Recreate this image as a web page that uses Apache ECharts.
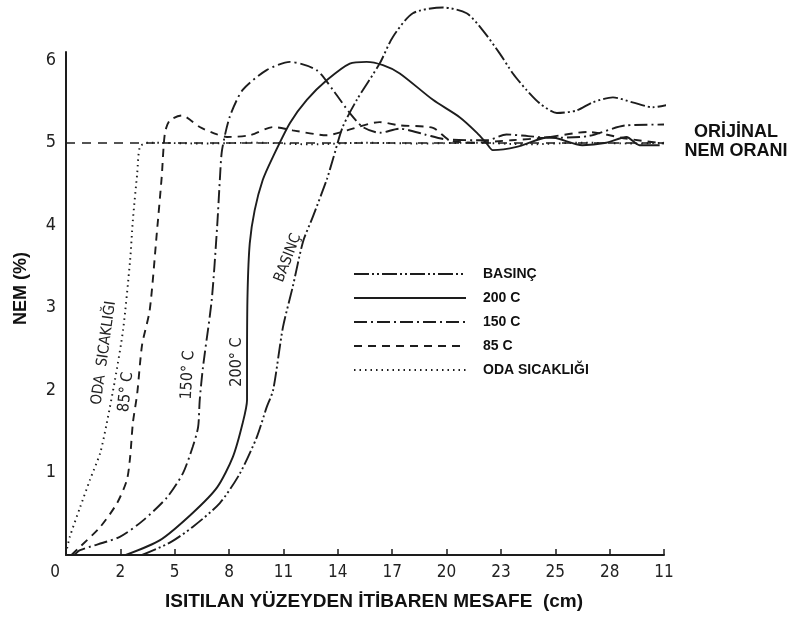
<!DOCTYPE html>
<html>
<head>
<meta charset="utf-8">
<script src="https://cdn.jsdelivr.net/npm/echarts@6/dist/echarts.min.js"></script>
<style>
  html, body { margin: 0; padding: 0; background: #fff; }
  #chart { width: 794px; height: 621px; }
</style>
</head>
<body>
<div id="chart"></div>
<script>
// Distance positions along the x axis (evenly spaced stations) and their labels
const xTickLabels = ['0', '2', '5', '8', '11', '14', '17', '20', '23', '25', '28', '11'];

// Moisture (%) curves, [station position, moisture]
const basinc = [[1.4,0],[1.91,0.15],[2.33,0.34],[2.83,0.63],[3.2,0.99],[3.51,1.43],[3.69,1.79],[3.81,2.0],
  [3.99,2.76],[4.17,3.25],[4.36,3.8],[4.54,4.1],[4.8,4.56],[4.91,4.8],[5.09,5.19],[5.35,5.52],[5.77,5.96],
  [6.01,6.28],[6.38,6.57],[6.93,6.64],[7.37,6.57],[7.67,6.36],[7.98,6.08],[8.22,5.84],[8.47,5.64],[8.71,5.48],
  [9.03,5.36],[9.39,5.39],[9.69,5.49],[10.06,5.55],[10.42,5.49],[10.79,5.43],[11.23,5.48],[11.78,5.54]];

const c200 = [[1.1,0],[1.73,0.18],[2.33,0.51],[2.78,0.82],[3.07,1.19],[3.25,1.6],[3.33,1.88],[3.33,2.36],
  [3.34,3.18],[3.38,3.78],[3.47,4.18],[3.62,4.55],[3.8,4.82],[4.12,5.24],[4.43,5.52],[4.8,5.76],[5.22,5.96],
  [5.53,5.98],[5.83,5.94],[6.14,5.84],[6.75,5.52],[7.24,5.31],[7.56,5.12],[7.74,4.99],[7.85,4.91],[8.29,4.95],
  [8.9,5.07],[9.5,4.97],[9.94,5.0],[10.31,5.07],[10.55,4.97],[10.92,4.97]];

const c150 = [[0.15,0],[0.26,0.06],[0.99,0.22],[1.42,0.42],[1.86,0.7],[2.15,0.99],[2.33,1.31],[2.43,1.55],
  [2.46,1.88],[2.52,2.28],[2.68,3.09],[2.78,3.98],[2.83,4.55],[2.87,4.91],[3.01,5.31],[3.25,5.64],[3.69,5.88],
  [4.12,5.98],[4.61,5.88],[4.91,5.64],[5.22,5.36],[5.46,5.19],[5.77,5.12],[6.14,5.17],[6.6,5.1],[7.0,5.04],
  [7.74,5.03],[8.1,5.1],[8.5,5.08],[8.9,5.06],[9.6,5.08],[10.3,5.21],[11,5.22]];

const c85 = [[0.1,0],[0.26,0.1],[0.63,0.34],[0.94,0.63],[1.12,0.91],[1.18,1.19],[1.23,1.6],[1.31,1.96],
  [1.4,2.55],[1.54,2.97],[1.67,3.9],[1.76,4.58],[1.82,5.12],[1.91,5.27],[2.13,5.33],[2.46,5.19],[2.78,5.1],
  [2.96,5.07],[3.38,5.09],[3.81,5.19],[4.17,5.15],[4.8,5.09],[5.17,5.15],[5.77,5.25],[6.14,5.21],[6.75,5.18],
  [7.06,5.03],[7.5,5.0],[8.2,5.03],[8.8,5.06],[9.6,5.13],[10.3,5.05],[11,4.99]];

const odaSicakligi = [[0.02,0.08],[0.07,0.22],[0.26,0.58],[0.44,0.91],[0.63,1.24],[0.75,1.6],[0.9,2.12],
  [1.05,2.73],[1.18,3.58],[1.23,4.06],[1.31,4.63],[1.36,4.95],[1.5,5.0],[2.5,4.99],[3.5,5.0],[4.5,4.98],
  [5.5,5.0],[6.5,4.99],[7.5,5.0],[8.5,4.98],[9.5,5.0],[10.5,4.99],[11,5.0]];

// Original moisture level
const originalLevel = 5;

const ink = '#1d1d1d';
const tickFont = 'DejaVu Sans Condensed';
const boldFont = 'Liberation Sans';

function curve(name, data, dash) {
  return {
    name: name,
    type: 'line',
    data: data,
    smooth: 0.25,
    symbol: 'none',
    clip: false,
    lineStyle: { color: ink, width: 1.9, type: dash },
    itemStyle: { color: ink },
    emphasis: { disabled: true },
    z: 3
  };
}

const chart = echarts.init(document.getElementById('chart'), null, { renderer: 'canvas' });

const series = [
  curve('BASINÇ', basinc, [15, 3, 2, 3, 2, 3]),
  curve('200 C', c200, 'solid'),
  curve('150 C', c150, [13, 4, 2, 4]),
  curve('85 C', c85, [8, 6]),
  curve('ODA SICAKLIĞI', odaSicakligi, [1.5, 4])
];
series[3].markLine = {
  silent: true,
  symbol: 'none',
  label: { show: false },
  lineStyle: { color: ink, width: 1.6, type: [9, 7] },
  data: [{ yAxis: originalLevel }]
};

chart.setOption({
  backgroundColor: '#fff',
  animation: false,
  grid: { left: 66, right: 130, top: 52, bottom: 66 },
  legend: {
    orient: 'vertical',
    left: 353,
    top: 267,
    itemWidth: 112,
    itemHeight: 12,
    itemGap: 10,
    padding: 0,
    itemStyle: { opacity: 0, color: 'rgba(0,0,0,0)', borderWidth: 0 },
    textStyle: { fontFamily: boldFont, fontWeight: 'bold', fontSize: 14, color: '#111', padding: [0, 0, 0, 12] },
    data: ['BASINÇ', '200 C', '150 C', '85 C', 'ODA SICAKLIĞI']
  },
  xAxis: {
    type: 'value',
    min: 0,
    max: 11,
    interval: 1,
    name: 'ISITILAN YÜZEYDEN İTİBAREN MESAFE  (cm)',
    nameLocation: 'middle',
    nameGap: 47,
    nameTextStyle: { fontFamily: boldFont, fontWeight: 'bold', fontSize: 19, color: '#111', verticalAlign: 'middle', padding: [0, 0, 0, 18] },
    axisLine: { lineStyle: { color: ink, width: 2 } },
    axisTick: { show: true, inside: true, length: 6, lineStyle: { color: ink, width: 1.5 } },
    splitLine: { show: false },
    axisLabel: {
      margin: 9,
      fontFamily: tickFont,
      fontSize: 17,
      color: '#222',
      formatter: function (v) {
        const t = xTickLabels[Math.round(v)];
        return v === 0 ? '{z|' + t + '}' : t;
      },
      rich: { z: { fontFamily: tickFont, fontSize: 17, color: '#222', padding: [0, 22, 0, 0] } }
    }
  },
  yAxis: {
    type: 'value',
    min: 0,
    max: 6.1,
    interval: 1,
    name: 'NEM (%)',
    nameLocation: 'middle',
    nameRotate: 90,
    nameGap: 45,
    nameTextStyle: { fontFamily: boldFont, fontWeight: 'bold', fontSize: 18, color: '#111', verticalAlign: 'middle', padding: [0, 0, 0, 30] },
    axisLine: { show: true, lineStyle: { color: ink, width: 2 } },
    axisTick: { show: false },
    splitLine: { show: false },
    axisLabel: {
      margin: 10,
      fontFamily: tickFont,
      fontSize: 18,
      color: '#222',
      formatter: function (v) { return (v === 0 || v % 1 !== 0) ? '' : String(v); }
    }
  },
  graphic: [
    { type: 'text', x: 736, y: 142, silent: true,
      style: { text: 'ORİJİNAL\nNEM ORANI', fill: '#111', font: 'bold 18px "Liberation Sans"', align: 'center', verticalAlign: 'middle', lineHeight: 19 } },
    { type: 'text', x: 104, y: 353, rotation: 82 * Math.PI / 180, silent: true,
      style: { text: 'ODA  SICAKLIĞI', fill: '#222', font: '15px "DejaVu Sans Condensed"', align: 'center', verticalAlign: 'middle' } },
    { type: 'text', x: 126, y: 392, rotation: 84 * Math.PI / 180, silent: true,
      style: { text: '85° C', fill: '#222', font: '16px "DejaVu Sans Condensed"', align: 'center', verticalAlign: 'middle' } },
    { type: 'text', x: 188, y: 375, rotation: 87 * Math.PI / 180, silent: true,
      style: { text: '150° C', fill: '#222', font: '16px "DejaVu Sans Condensed"', align: 'center', verticalAlign: 'middle' } },
    { type: 'text', x: 237, y: 362, rotation: 90 * Math.PI / 180, silent: true,
      style: { text: '200° C', fill: '#222', font: '16px "DejaVu Sans Condensed"', align: 'center', verticalAlign: 'middle' } },
    { type: 'text', x: 288, y: 258, rotation: 69 * Math.PI / 180, silent: true,
      style: { text: 'BASINÇ', fill: '#222', font: '15px "DejaVu Sans Condensed"', align: 'center', verticalAlign: 'middle' } }
  ],
  series: series
});
</script>
</body>
</html>
